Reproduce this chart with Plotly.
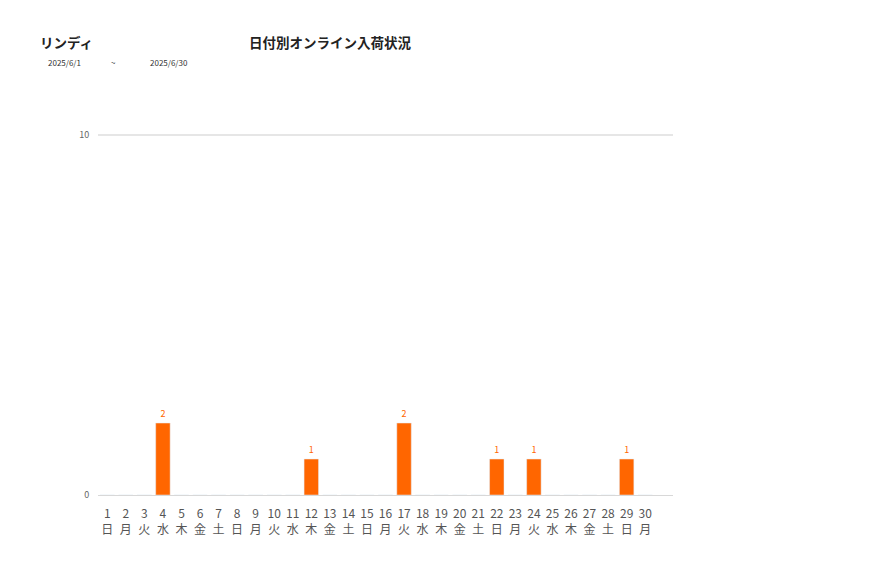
import plotly.graph_objects as go

days = list(range(1, 31))
weekdays = ["日", "月", "火", "水", "木", "金", "土"] * 5
weekdays = weekdays[:30]
counts = [0, 0, 0, 2, 0, 0, 0, 0, 0, 0, 0, 1, 0, 0, 0, 0, 2, 0, 0, 0, 0, 1, 0, 1, 0, 0, 0, 0, 1, 0]

tick_text = [f"{d}<br>{w}" for d, w in zip(days, weekdays)]
bar_labels = [str(c) if c > 0 else "" for c in counts]

font_jp = "Noto Sans CJK JP"

# page is drawn with an 8px offset, so margins are shifted by it
L, R, T, B = 90, 212, 125, 91
W, H = 877, 578

fig = go.Figure()
fig.add_trace(go.Bar(
    x=list(range(30)), y=counts,
    marker_color="#ff6600", width=0.78,
    text=bar_labels, textposition="outside",
    textfont=dict(size=9, color="#ff6600"),
    cliponaxis=False,
))

fig.update_layout(
    width=W, height=H,
    margin=dict(l=L, r=R, t=T, b=B),
    plot_bgcolor="white", paper_bgcolor="white",
    showlegend=False,
    font=dict(family=font_jp, color="#555555"),
)
fig.update_xaxes(
    range=[-0.5, 30.5], tickmode="array",
    tickvals=list(range(30)), ticktext=tick_text,
    tickfont=dict(size=12, color="#555555"),
    showgrid=False, showline=True, linecolor="#d8d8d8", linewidth=1,
    ticks="outside", ticklen=8, tickcolor="white",
)
# top slightly above 10 so the gridline at 10 is drawn
fig.update_yaxes(
    range=[0, 10.06], tickvals=[0, 10],
    tickfont=dict(size=9, color="#666666"),
    showgrid=True, gridcolor="#e6e6e6", gridwidth=1.5, zeroline=False,
    ticks="outside", ticklen=6, tickcolor="white",
)

annots = [
    dict(text="<b>リンディ</b>", x=38, y=42, size=13.5, color="#222222"),
    dict(text="<b>日付別オンライン入荷状況</b>", x=247, y=42, size=13.5, color="#222222"),
    dict(text="2025/6/1", x=46, y=62, size=8, color="#333333"),
    dict(text="~", x=109, y=62, size=8, color="#333333"),
    dict(text="2025/6/30", x=148, y=62, size=8, color="#333333"),
]
for a in annots:
    px_x = a["x"] - 8
    px_y = a["y"] - 8
    fig.add_annotation(
        text=a["text"],
        x=(px_x - L) / (W - L - R), y=1 + (T - px_y) / (H - T - B),
        xref="paper", yref="paper", xanchor="left", yanchor="middle",
        showarrow=False, font=dict(size=a["size"], color=a["color"], family=font_jp),
    )

fig.write_html("out.html")
